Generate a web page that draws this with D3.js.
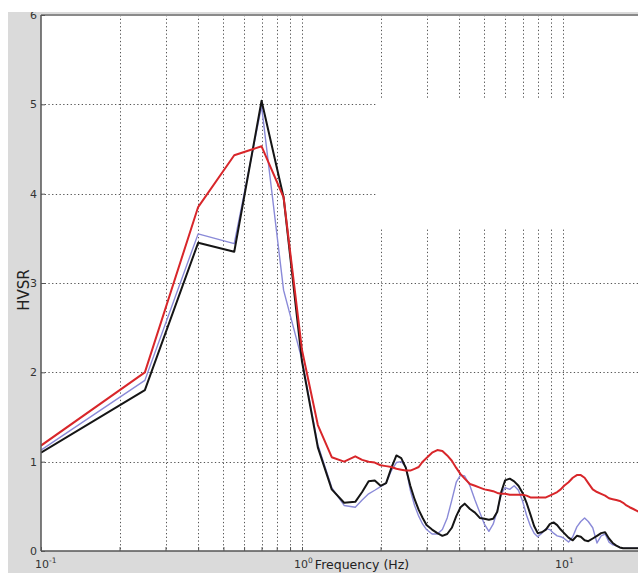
<!DOCTYPE html>
<html>
<head>
<meta charset="utf-8">
<script src="https://cdn.jsdelivr.net/npm/d3@7/dist/d3.min.js"></script>
<style>
  html, body { margin: 0; padding: 0; background: #fff; }
  svg { display: block; }
</style>
</head>
<body>
<svg id="chart" width="638" height="573"></svg>
<script>
// HVSR spectral ratio curves (frequency in Hz)
const freq = [0.1, 0.25, 0.4, 0.55, 0.7, 0.85, 1.0, 1.15, 1.3, 1.45, 1.6,
  1.7, 1.8, 1.9, 2.0, 2.1, 2.2, 2.3, 2.4, 2.5, 2.6, 2.7, 2.8, 2.9,
  3.0, 3.15, 3.3, 3.45, 3.6, 3.75, 3.9, 4.05, 4.2,
  4.4, 4.6, 4.8, 5.0, 5.2, 5.4, 5.6, 5.8, 6.0,
  6.25, 6.5, 6.75, 7.0, 7.25, 7.5, 7.75, 8.0,
  8.3, 8.6, 8.9, 9.2, 9.5, 9.8, 10.1,
  10.5, 10.9, 11.3, 11.7, 12.1, 12.5,
  13.0, 13.5, 14.0, 14.5, 15.0, 15.5, 16.0, 16.5, 17.0, 17.5, 18.0,
  18.6, 19.2, 19.8];

const hvsrRed = [1.18, 2.00, 3.85, 4.43, 4.53, 3.96, 2.25, 1.41, 1.05, 1.00, 1.06,
  1.02, 1.00, 0.99, 0.96, 0.95, 0.94, 0.92, 0.91, 0.90, 0.90, 0.92, 0.94, 1.00,
  1.04, 1.10, 1.13, 1.12, 1.07, 1.01, 0.93, 0.86, 0.81,
  0.75, 0.73, 0.71, 0.69, 0.68, 0.67, 0.65, 0.64, 0.64,
  0.63, 0.63, 0.63, 0.63, 0.62, 0.60, 0.60, 0.60,
  0.60, 0.60, 0.62, 0.64, 0.66, 0.69, 0.73,
  0.77, 0.82, 0.85, 0.85, 0.82, 0.76,
  0.69, 0.66, 0.64, 0.62, 0.59, 0.58, 0.57, 0.56, 0.54, 0.51, 0.49,
  0.47, 0.45, 0.43];

const hvsrBlue = [1.13, 1.91, 3.55, 3.44, 4.98, 2.92, 2.14, 1.19, 0.71, 0.51, 0.49,
  0.57, 0.64, 0.68, 0.72, 0.76, 0.90, 0.99, 1.00, 0.94, 0.68, 0.51, 0.39, 0.30,
  0.24, 0.19, 0.19, 0.24, 0.37, 0.57, 0.77, 0.85, 0.84,
  0.73, 0.57, 0.43, 0.30, 0.22, 0.30, 0.45, 0.64, 0.71,
  0.69, 0.73, 0.68, 0.56, 0.40, 0.28, 0.20, 0.16,
  0.20, 0.25, 0.24, 0.20, 0.17, 0.16, 0.14,
  0.10, 0.16, 0.27, 0.33, 0.37, 0.33,
  0.26, 0.09, 0.17, 0.19, 0.10, 0.07, 0.06, 0.04, 0.03, 0.03, 0.03,
  0.03, 0.03, 0.03];

const hvsrBlack = [1.10, 1.80, 3.45, 3.35, 5.04, 3.96, 2.12, 1.16, 0.69, 0.54, 0.55,
  0.66, 0.78, 0.79, 0.73, 0.76, 0.93, 1.07, 1.04, 0.93, 0.73, 0.58, 0.46, 0.37,
  0.29, 0.24, 0.20, 0.17, 0.19, 0.26, 0.39, 0.49, 0.53,
  0.47, 0.43, 0.37, 0.36, 0.35, 0.36, 0.44, 0.66, 0.79,
  0.81, 0.78, 0.73, 0.65, 0.54, 0.41, 0.28, 0.20,
  0.21, 0.24, 0.30, 0.32, 0.29, 0.24, 0.20,
  0.15, 0.12, 0.17, 0.16, 0.12, 0.11,
  0.14, 0.17, 0.20, 0.21, 0.14, 0.09, 0.06, 0.04, 0.03, 0.03, 0.03,
  0.03, 0.03, 0.03];

const yTicks = [0, 1, 2, 3, 4, 5, 6];
const xDecades = [0.1, 1, 10];
const xDecadeExp = ["-1", "0", "1"];

const svg = d3.select("#chart");
const W = 638, H = 573;
const plotLeft = 41, plotTop = 15, plotBottom = 551;

const x = d3.scaleLog().domain([0.1, 100]).range([plotLeft, plotLeft + 3 * 261]);
const y = d3.scaleLinear().domain([0, 6]).range([plotBottom, plotTop]);

// figure background
svg.append("rect").attr("x", 0).attr("y", 0).attr("width", W).attr("height", H).attr("fill", "#fff");
svg.append("rect").attr("x", 8).attr("y", 12).attr("width", W - 8).attr("height", H - 12).attr("fill", "#dadada");
// axes background
svg.append("rect").attr("x", plotLeft).attr("y", plotTop).attr("width", W - plotLeft)
  .attr("height", plotBottom - plotTop).attr("fill", "#fff");

// grid
const minor = [];
[0.1, 1, 10].forEach(d => { for (let m = 1; m <= 9; m++) minor.push(+(d * m).toPrecision(3)); });
minor.push(100);
const grid = svg.append("g").attr("stroke", "#555").attr("stroke-width", 1)
  .attr("stroke-dasharray", "1.3,2.4").attr("fill", "none");
grid.selectAll("line.v").data(minor.filter(d => d > 0.1)).join("line")
  .attr("x1", d => Math.round(x(d)) + 0.5).attr("x2", d => Math.round(x(d)) + 0.5)
  .attr("y1", plotTop).attr("y2", plotBottom);
grid.selectAll("line.h").data(yTicks.filter(d => d > 0 && d < 6)).join("line")
  .attr("x1", plotLeft).attr("x2", W)
  .attr("y1", d => Math.round(y(d)) + 0.5).attr("y2", d => Math.round(y(d)) + 0.5);

// blank panel in the upper right
svg.append("rect").attr("x", 376).attr("y", 99).attr("width", W - 376).attr("height", 129).attr("fill", "#fff");

// curves
const line = d3.line().x(d => x(d[0])).y(d => y(d[1])).curve(d3.curveLinear);
const series = [
  { v: hvsrBlue, c: "#8a8ad8", w: 1.4 },
  { v: hvsrBlack, c: "#151515", w: 2 },
  { v: hvsrRed, c: "#d8262a", w: 2 }
];
svg.append("clipPath").attr("id", "plotclip").append("rect")
  .attr("x", plotLeft).attr("y", plotTop).attr("width", W - plotLeft).attr("height", plotBottom - plotTop);
const lines = svg.append("g").attr("clip-path", "url(#plotclip)");
series.forEach(s => {
  lines.append("path").datum(freq.map((f, i) => [f, s.v[i]]))
    .attr("d", line).attr("fill", "none").attr("stroke", s.c)
    .attr("stroke-width", s.w).attr("stroke-linejoin", "round");
});

// axes frame
svg.append("line").attr("x1", plotLeft).attr("x2", W).attr("y1", plotTop).attr("y2", plotTop)
  .attr("stroke", "#8a8a8a").attr("stroke-width", 2);
svg.append("line").attr("x1", plotLeft).attr("x2", plotLeft).attr("y1", plotTop).attr("y2", plotBottom)
  .attr("stroke", "#555").attr("stroke-width", 1.5);
svg.append("line").attr("x1", plotLeft).attr("x2", W).attr("y1", plotBottom).attr("y2", plotBottom)
  .attr("stroke", "#555").attr("stroke-width", 1.5);

// y axis ticks and labels
const yAxis = d3.axisLeft(y).tickValues(yTicks).tickSize(-4).tickPadding(6).tickFormat(d3.format("d"));
const gy = svg.append("g").attr("transform", `translate(${plotLeft},0)`).call(yAxis);
gy.select(".domain").remove();
gy.selectAll(".tick line").attr("stroke", "#555");
gy.selectAll(".tick text").attr("fill", "#333").attr("font-family", "DejaVu Sans, sans-serif")
  .attr("font-size", 11).attr("x", -4);

// x axis minor ticks
const xAxis = d3.axisBottom(x).tickValues(minor).tickSize(-4).tickFormat("");
const gx = svg.append("g").attr("transform", `translate(0,${plotBottom})`).call(xAxis);
gx.select(".domain").remove();
gx.selectAll(".tick line").attr("stroke", "#555");

// decade labels
const lab = svg.append("g").attr("font-family", "DejaVu Sans, sans-serif").attr("fill", "#333");
xDecades.forEach((d, i) => {
  const t = lab.append("text").attr("x", x(d) - 8 + (i === 0 ? 2 : 0)).attr("y", 568).attr("font-size", 11);
  t.append("tspan").text("10");
  t.append("tspan").attr("dy", -5).attr("font-size", 7.5).text(xDecadeExp[i]);
});

// axis titles
svg.append("text").attr("x", 362).attr("y", 569).attr("text-anchor", "middle")
  .attr("font-family", "DejaVu Sans, sans-serif").attr("font-size", 12.5).attr("fill", "#222")
  .text("Frequency (Hz)");
svg.append("text").attr("transform", "translate(29,290) rotate(-90)").attr("text-anchor", "middle")
  .attr("font-family", "DejaVu Sans, sans-serif").attr("font-size", 15).attr("fill", "#222")
  .text("HVSR");

// top margin
svg.append("rect").attr("x", 0).attr("y", 0).attr("width", W).attr("height", 12).attr("fill", "#fff");
</script>
</body>
</html>
